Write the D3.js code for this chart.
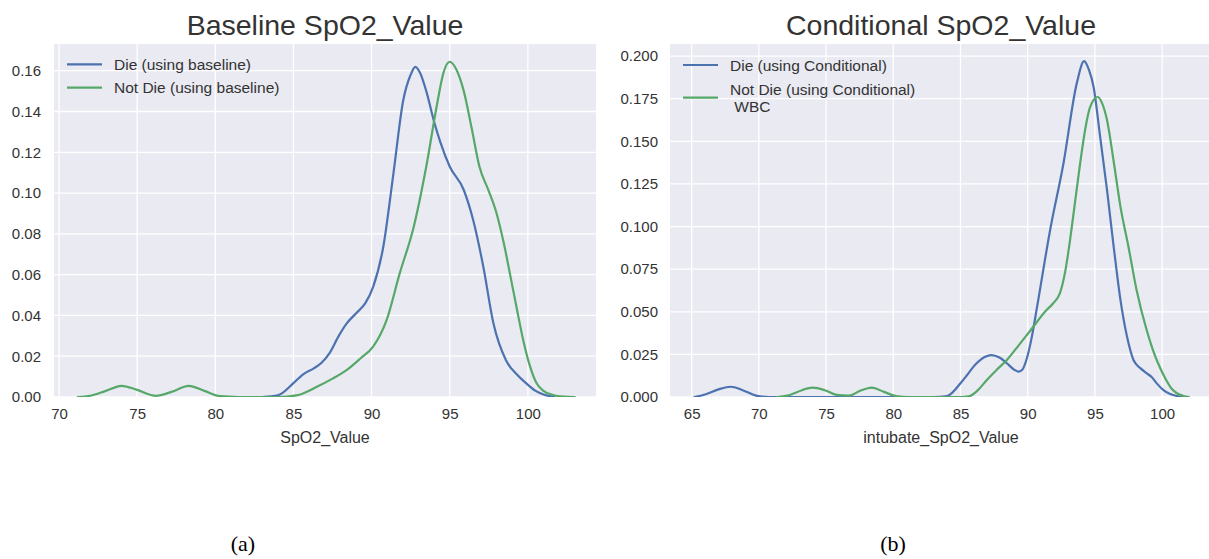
<!DOCTYPE html>
<html>
<head>
<meta charset="utf-8">
<script src="https://cdn.jsdelivr.net/npm/d3@7"></script>
<style>
  html, body { margin: 0; padding: 0; background: #fff; }
  svg { display: block; }
</style>
</head>
<body>
<svg id="chart" width="1209" height="559" font-family="'Liberation Sans', Arial, sans-serif"></svg>
<script>
// ---------- data ----------
const leftTitle = "Baseline SpO2_Value";
const rightTitle = "Conditional SpO2_Value";
const leftXLabel = "SpO2_Value";
const rightXLabel = "intubate_SpO2_Value";
const leftLegend = ["Die (using baseline)", "Not Die (using baseline)"];
const rightLegend = ["Die (using Conditional)", "Not Die (using Conditional)\n WBC"];
const captions = ["(a)", "(b)"];

const leftXTicks = [70, 75, 80, 85, 90, 95, 100];
const leftYTicks = [0, 0.02, 0.04, 0.06, 0.08, 0.10, 0.12, 0.14, 0.16];
const rightXTicks = [65, 70, 75, 80, 85, 90, 95, 100];
const rightYTicks = [0, 0.025, 0.05, 0.075, 0.1, 0.125, 0.15, 0.175, 0.2];

// [SpO2, density]
const leftDie = [[83.0,0],[84.0,0.0008],[85.0,0.0068],[85.6,0.0110],[86.3,0.014],[86.8,0.0168],[87.3,0.0214],[87.9,0.030],[88.4,0.036],[89.0,0.041],[89.6,0.046],[90.1,0.054],[90.75,0.0737],[91.4,0.1097],[92.03,0.1456],[92.5,0.158],[92.8,0.1619],[93.1,0.159],[93.5,0.150],[94.0,0.135],[94.4,0.125],[95.0,0.113],[95.9,0.1015],[96.5,0.0868],[97.15,0.0639],[97.8,0.036],[98.6,0.018],[99.3,0.011],[99.9,0.0067],[100.5,0.003],[101.0,0.0012],[101.7,0]];
const leftNotDie = [[71.2,0],[72.0,0.0006],[73.0,0.003],[74.0,0.0055],[75.0,0.0035],[76.2,0.0006],[77.2,0.0025],[78.3,0.0055],[79.3,0.003],[80.3,0.0004],[81.5,0],[84.0,0],[85.2,0.0008],[86.5,0.005],[87.5,0.009],[88.4,0.0132],[89.3,0.019],[90.1,0.0247],[90.96,0.0377],[91.8,0.0606],[92.7,0.0835],[93.5,0.113],[94.2,0.144],[94.6,0.159],[95.0,0.1644],[95.4,0.161],[95.9,0.150],[96.4,0.132],[96.9,0.113],[97.5,0.101],[98.0,0.090],[98.5,0.074],[98.85,0.0606],[99.3,0.043],[99.7,0.028],[100.1,0.016],[100.56,0.0067],[101.0,0.003],[101.6,0.001],[102.3,0.0002],[103.0,0]];
const rightDie = [[65.2,0],[66.0,0.0015],[67.0,0.0045],[67.9,0.006],[68.8,0.004],[69.8,0.0008],[70.8,0],[83.0,0],[84.0,0.0006],[85.2,0.010],[86.2,0.0198],[86.8,0.0235],[87.3,0.0246],[87.9,0.0232],[88.45,0.0198],[89.0,0.016],[89.3,0.0149],[89.6,0.016],[89.9,0.0217],[90.3,0.035],[90.7,0.053],[91.67,0.098],[92.66,0.137],[93.65,0.184],[94.2,0.197],[94.55,0.192],[94.9,0.182],[95.4,0.152],[95.9,0.1215],[96.4,0.088],[96.9,0.057],[97.4,0.035],[97.87,0.0217],[98.4,0.0168],[98.86,0.0139],[99.2,0.0119],[99.6,0.008],[100.1,0.0041],[100.6,0.0018],[101.1,0.0006],[101.6,0]];
const rightNotDie = [[71.35,0],[72.3,0.0012],[73.2,0.004],[74.0,0.0055],[74.9,0.004],[75.8,0.0012],[76.7,0.0008],[77.5,0.0035],[78.4,0.0055],[79.3,0.003],[80.2,0.0006],[81.2,0],[85.0,0],[85.7,0.0006],[86.3,0.004],[86.96,0.010],[87.7,0.016],[88.45,0.0217],[89.3,0.030],[90.2,0.039],[91.4,0.051],[91.9,0.055],[92.4,0.0609],[92.8,0.074],[93.15,0.092],[93.5,0.113],[93.9,0.137],[94.3,0.158],[94.64,0.170],[95.2,0.176],[95.5,0.173],[95.9,0.1625],[96.4,0.138],[96.9,0.1117],[97.5,0.088],[98.1,0.0628],[98.86,0.039],[99.3,0.028],[99.7,0.0198],[100.3,0.010],[100.7,0.005],[101.1,0.0022],[101.6,0.0006],[102.0,0]];

// ---------- drawing ----------
const svg = d3.select("#chart");
const BLUE = "#4C72B0", GREEN = "#55A868", BG = "#EAEAF2", TXT = "#333";
const SANS = "'Liberation Sans', Arial, sans-serif";

function panel(cfg) {
  const {left, right, top, bottom, xDomain, yDomain, xTicks, yTicks, yFmt, series,
         title, titleX, xLabel, legend, legendLayout, clipRight} = cfg;
  const g = svg.append("g");
  const x = d3.scaleLinear().domain(xDomain).range([left, right]);
  const y = d3.scaleLinear().domain(yDomain).range([bottom, top]);
  const visRight = Math.min(right, clipRight);
  const clipId = "clip" + Math.round(left);
  svg.append("clipPath").attr("id", clipId).append("rect")
    .attr("x", left).attr("y", top).attr("width", visRight - left).attr("height", bottom - top);

  g.append("rect").attr("x", left).attr("y", top).attr("width", visRight - left).attr("height", bottom - top)
    .attr("fill", BG);

  // grid
  const grid = g.append("g").attr("clip-path", `url(#${clipId})`);
  grid.selectAll(".vx").data(xTicks).join("line")
    .attr("x1", d => x(d)).attr("x2", d => x(d)).attr("y1", top).attr("y2", bottom)
    .attr("stroke", "#fff").attr("stroke-width", 1.3);
  grid.selectAll(".hy").data(yTicks).join("line")
    .attr("x1", left).attr("x2", visRight).attr("y1", d => y(d)).attr("y2", d => y(d))
    .attr("stroke", "#fff").attr("stroke-width", 1.3);

  // axes
  const ax = g.append("g").attr("transform", `translate(0,${bottom})`)
    .call(d3.axisBottom(x).tickValues(xTicks).tickSize(0).tickPadding(11).tickFormat(d3.format("d")));
  ax.select(".domain").remove();
  ax.attr("font-family", SANS).attr("font-size", 15);
  ax.selectAll("text").attr("fill", TXT);

  const ay = g.append("g").attr("transform", `translate(${left},0)`)
    .call(d3.axisLeft(y).tickValues(yTicks).tickSize(0).tickPadding(cfg.yPad).tickFormat(d3.format(yFmt)));
  ay.select(".domain").remove();
  ay.attr("font-family", SANS).attr("font-size", 15);
  ay.selectAll("text").attr("fill", TXT);

  // curves
  const line = d3.line().x(d => x(d[0])).y(d => y(d[1])).curve(d3.curveMonotoneX);
  const lg = g.append("g").attr("clip-path", `url(#${clipId})`);
  series.forEach(s => {
    lg.append("path").datum(s.data).attr("d", line)
      .attr("fill", "none").attr("stroke", s.color).attr("stroke-width", 2.2)
      .attr("stroke-linejoin", "round").attr("stroke-linecap", "round");
  });

  // title
  g.append("text").attr("x", titleX).attr("y", 35).attr("text-anchor", "middle")
    .attr("font-size", 28.5).attr("fill", TXT).text(title);
  // x label
  g.append("text").attr("x", titleX).attr("y", 443).attr("text-anchor", "middle")
    .attr("font-size", 16).attr("fill", TXT).text(xLabel);

  // legend
  legend.forEach((lab, i) => {
    const L = legendLayout[i];
    g.append("line").attr("x1", L.lx1).attr("x2", L.lx2).attr("y1", L.ly).attr("y2", L.ly)
      .attr("stroke", series[i].color).attr("stroke-width", 2.2);
    const lines = lab.split("\n");
    const t = g.append("text").attr("font-size", 15.5).attr("fill", TXT).attr("xml:space", "preserve");
    lines.forEach((ln, j) => {
      t.append("tspan").attr("x", L.tx).attr("y", L.ty + j * 17.4).text(ln);
    });
  });
}

panel({
  left: 54, right: 596, top: 44, bottom: 397,
  xDomain: [69.68, 104.36], yDomain: [0, 0.1731],
  xTicks: leftXTicks, yTicks: leftYTicks, yFmt: ".2f", yPad: 13,
  series: [{data: leftDie, color: BLUE}, {data: leftNotDie, color: GREEN}],
  title: leftTitle, titleX: 325, xLabel: leftXLabel, legend: leftLegend,
  legendLayout: [{lx1: 67, lx2: 102, ly: 64.3, tx: 114, ty: 69.8},
                 {lx1: 67, lx2: 102, ly: 87.7, tx: 114, ty: 93.2}],
  clipRight: 1209
});

panel({
  left: 670, right: 1214, top: 44, bottom: 397,
  xDomain: [63.39, 103.86], yDomain: [0, 0.2071],
  xTicks: rightXTicks, yTicks: rightYTicks, yFmt: ".3f", yPad: 12,
  series: [{data: rightDie, color: BLUE}, {data: rightNotDie, color: GREEN}],
  title: rightTitle, titleX: 941, xLabel: rightXLabel, legend: rightLegend,
  legendLayout: [{lx1: 683, lx2: 718, ly: 65, tx: 730, ty: 70.5},
                 {lx1: 683, lx2: 718, ly: 97.7, tx: 730, ty: 94.8}],
  clipRight: 1209
});

// captions
const SERIF = "'Liberation Serif', 'Times New Roman', serif";
svg.append("text").attr("x", 243).attr("y", 551).attr("text-anchor", "middle")
  .attr("font-family", SERIF).attr("font-size", 22)
  .attr("fill", "#000").text(captions[0]);
svg.append("text").attr("x", 893).attr("y", 551).attr("text-anchor", "middle")
  .attr("font-family", SERIF).attr("font-size", 22)
  .attr("fill", "#000").text(captions[1]);
</script>
</body>
</html>
